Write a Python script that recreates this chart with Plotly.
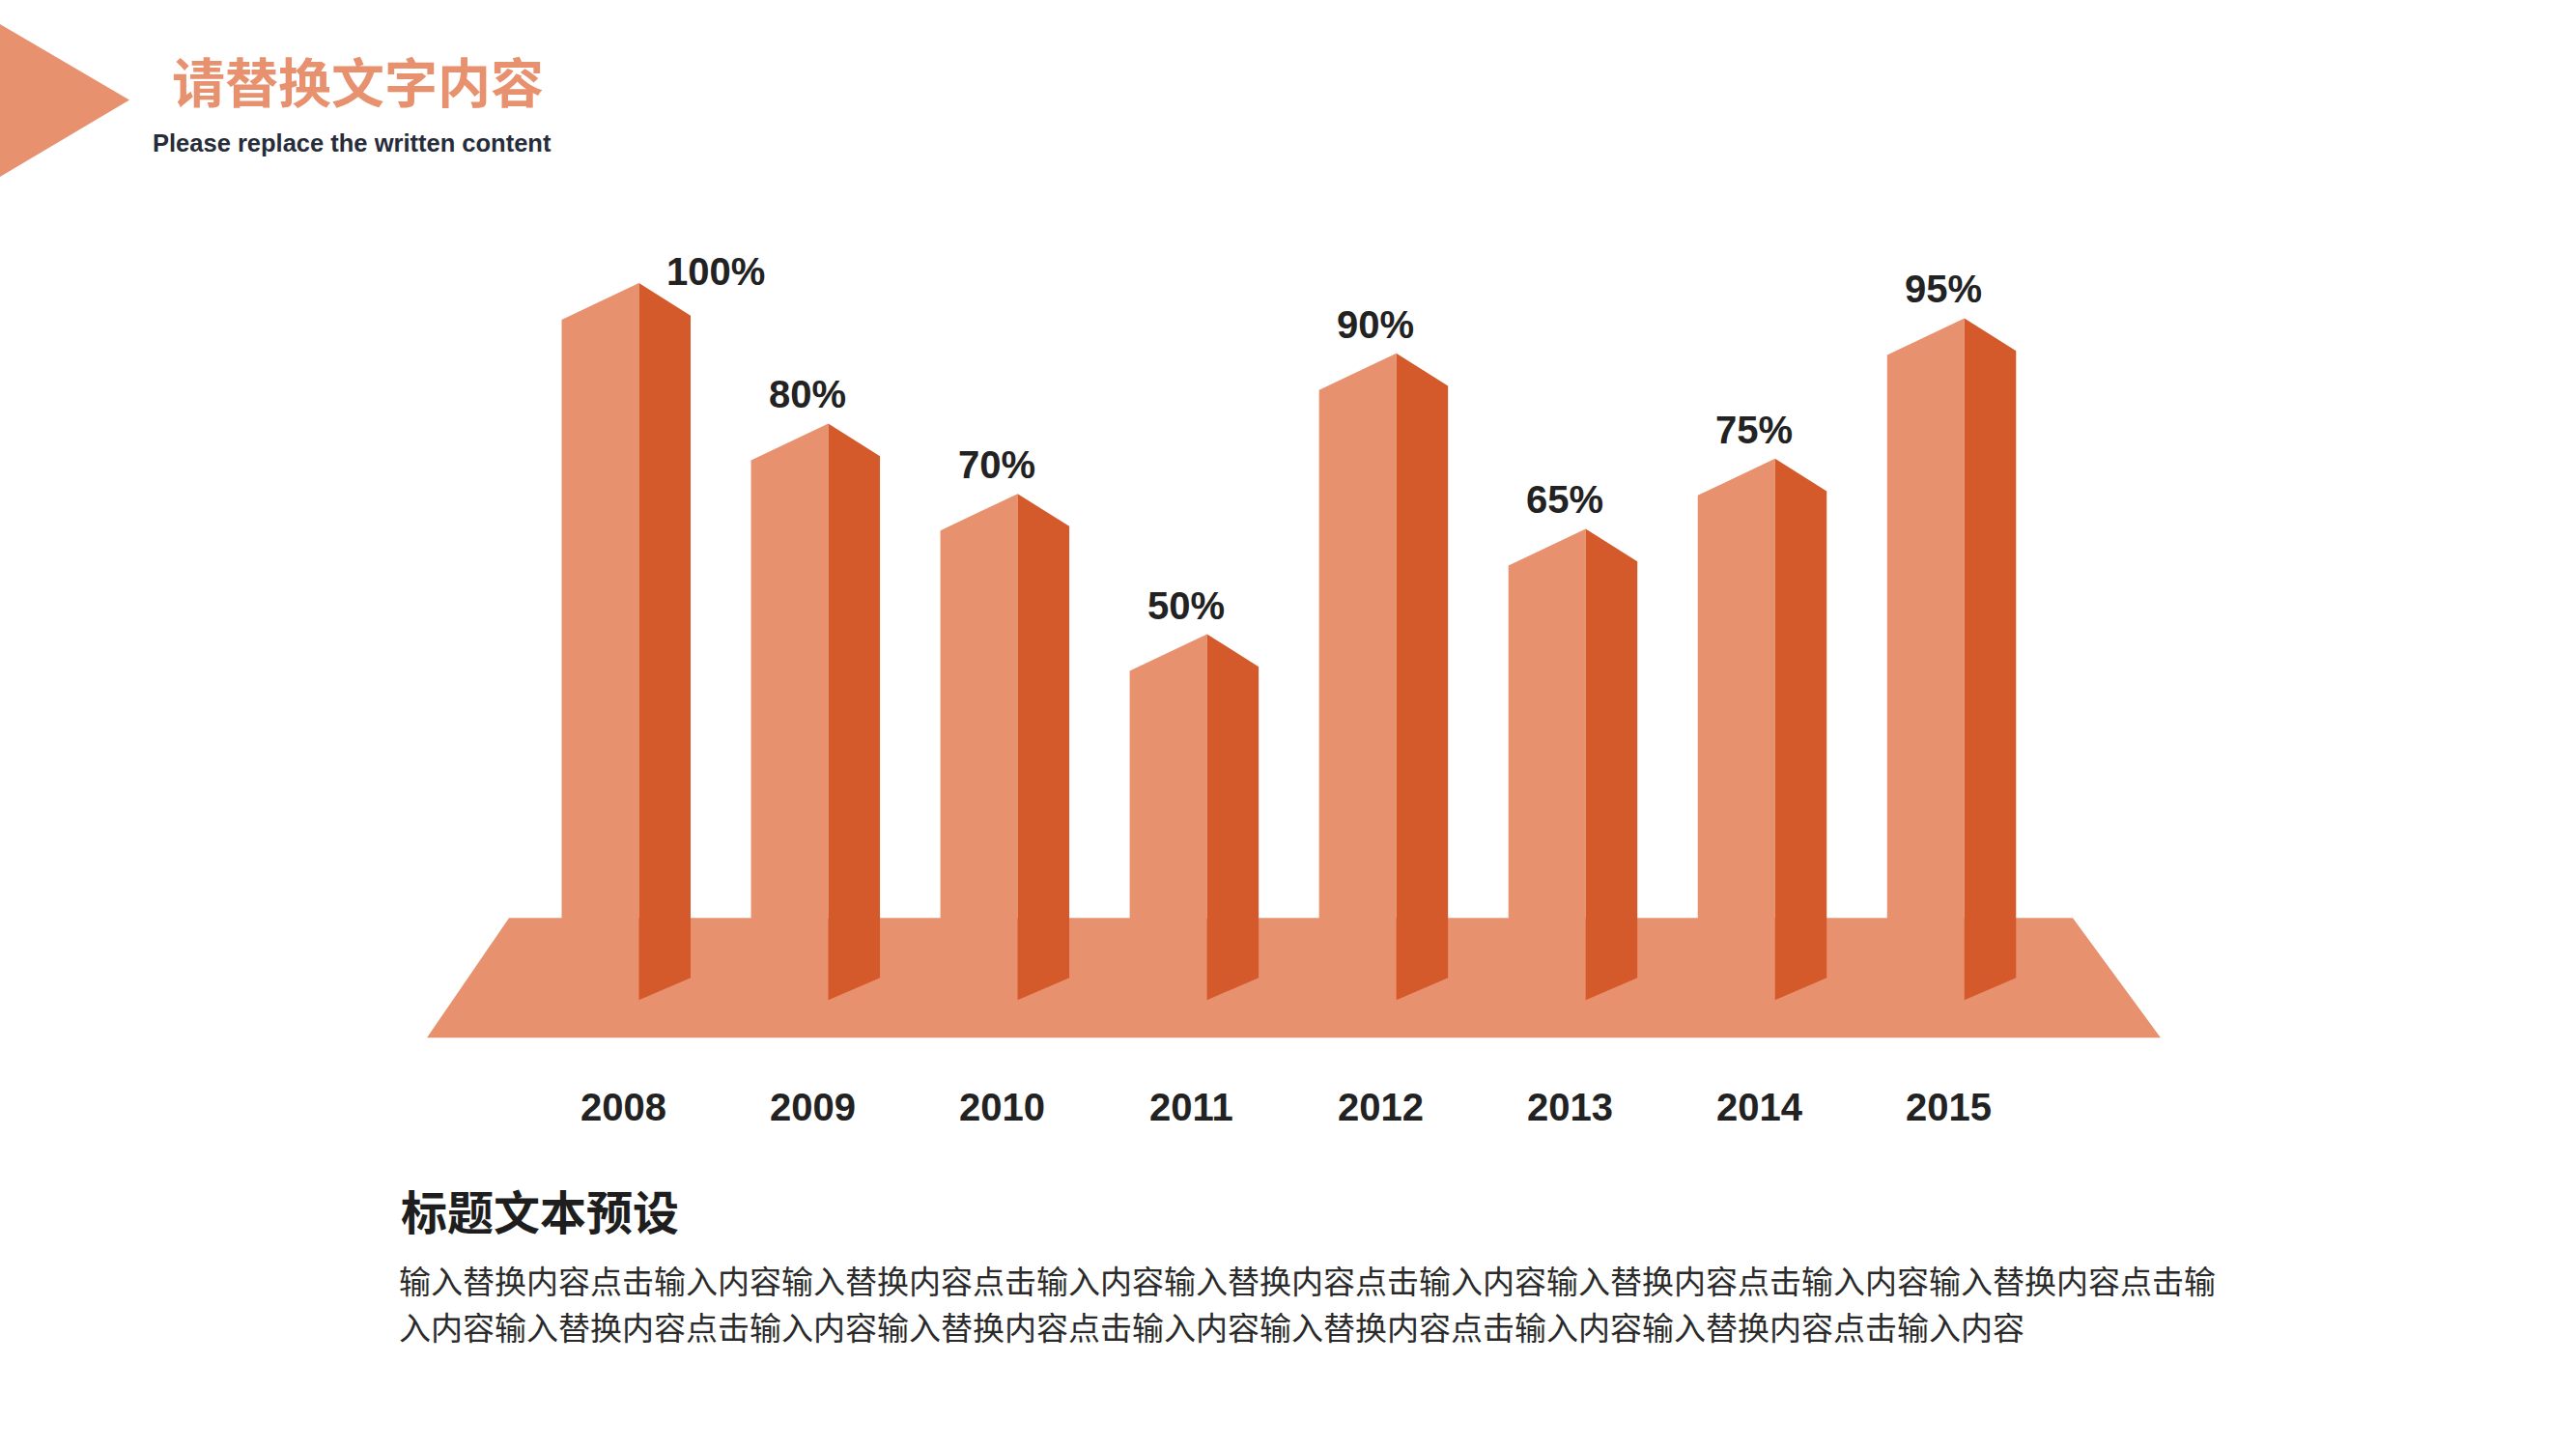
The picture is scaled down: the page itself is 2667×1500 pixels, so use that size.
import plotly.graph_objects as go

# ---------------- data ----------------
years = ["2008", "2009", "2010", "2011", "2012", "2013", "2014", "2015"]
values = [100, 80, 70, 50, 90, 65, 75, 95]
value_labels = [f"{v}%" for v in values]

title_cn = "请替换文字内容"
subtitle_en = "Please replace the written content"
section_title = "标题文本预设"
body_unit = "输入替换内容点击输入内容"
body_text = body_unit * 9
body_line1 = body_text[:57]
body_line2 = body_text[57:]

# ---------------- layout / style constants ----------------
W, H = 2667, 1500
CAT0_PX = 661.5        # pixel x of first category ridge
CAT_STEP_PX = 196.04   # pixels per category
ZERO_PX = 1019.9       # pixel y of value 0
UNIT_PX = 7.268        # pixels per value unit

LIGHT = "#E8916F"
DARK = "#D55A2B"
TEXT_DARK = "#222222"

FRONT_W = 80 / CAT_STEP_PX
SIDE_W = 53.5 / CAT_STEP_PX
FRONT_DROP = 38 / UNIT_PX
SIDE_DROP = 33.7 / UNIT_PX
FRONT_BOTTOM = -15.3 / UNIT_PX
SIDE_BOTTOM_MID = -15.3 / UNIT_PX
SIDE_BOTTOM_RIGHT = 7.6 / UNIT_PX

FLOOR_TOP = (ZERO_PX - 950.3) / UNIT_PX
FLOOR_BOTTOM = (ZERO_PX - 1074.3) / UNIT_PX
FLOOR_TL = -134.5 / CAT_STEP_PX
FLOOR_TR = 112.2 / CAT_STEP_PX
FLOOR_BL = -219.5 / CAT_STEP_PX
FLOOR_BR = 203.2 / CAT_STEP_PX

x_range = [-CAT0_PX / CAT_STEP_PX, (W - CAT0_PX) / CAT_STEP_PX]
y_range = [(ZERO_PX - H) / UNIT_PX, ZERO_PX / UNIT_PX]


def py(px):
    """pixel y (from top) to value units"""
    return (ZERO_PX - px) / UNIT_PX


fig = go.Figure()

# floor
n = len(years)
last = n - 1
fig.add_trace(go.Scatter(
    x=[FLOOR_TL, last + FLOOR_TR, last + FLOOR_BR, FLOOR_BL, FLOOR_TL],
    y=[FLOOR_TOP, FLOOR_TOP, FLOOR_BOTTOM, FLOOR_BOTTOM, FLOOR_TOP],
    fill="toself", fillcolor=LIGHT, mode="lines", line=dict(width=0),
    hoverinfo="skip", showlegend=False))

# bars: front (light) faces and side (dark) faces
fx, fy, sx, sy = [], [], [], []
for i, v in enumerate(values):
    fx += [i - FRONT_W, i, i, i - FRONT_W, i - FRONT_W, None]
    fy += [v - FRONT_DROP, v, FRONT_BOTTOM, FRONT_BOTTOM, v - FRONT_DROP, None]
    sx += [i, i + SIDE_W, i + SIDE_W, i, i, None]
    sy += [v, v - SIDE_DROP, SIDE_BOTTOM_RIGHT, SIDE_BOTTOM_MID, v, None]

fig.add_trace(go.Scatter(x=fx, y=fy, fill="toself", fillcolor=LIGHT, mode="lines",
                         line=dict(width=0), hoverinfo="skip", showlegend=False))
fig.add_trace(go.Scatter(x=sx, y=sy, fill="toself", fillcolor=DARK, mode="lines",
                         line=dict(width=0), hoverinfo="skip", showlegend=False))

annotations = []
num_font = dict(family="Liberation Sans, Arial, sans-serif", size=40, color=TEXT_DARK,
                weight="bold")
imax = values.index(max(values))
for i, (v, lab) in enumerate(zip(values, value_labels)):
    if i == imax:
        annotations.append(dict(x=i, y=v, xref="x", yref="y", text=lab, showarrow=False,
                                xanchor="left", yanchor="middle", xshift=26, yshift=12,
                                font=num_font))
    else:
        annotations.append(dict(x=i, y=v, xref="x", yref="y", text=lab, showarrow=False,
                                xanchor="center", yanchor="middle", xshift=-22, yshift=30,
                                font=num_font))

# category labels
for i, yr in enumerate(years):
    annotations.append(dict(x=i, y=py(1146), xref="x", yref="y", text=yr, showarrow=False,
                            xanchor="center", yanchor="middle", xshift=-16,
                            font=num_font))

# header texts
annotations.append(dict(x=176 / W, y=1 - 82 / H, xref="paper", yref="paper", text=title_cn,
                        showarrow=False, xanchor="left", yanchor="middle",
                        font=dict(family="Noto Sans CJK SC", size=55, color=LIGHT, weight="bold")))
annotations.append(dict(x=156 / W, y=1 - 148 / H, xref="paper", yref="paper", text=subtitle_en,
                        showarrow=False, xanchor="left", yanchor="middle",
                        font=dict(family="Liberation Sans, Arial, sans-serif", size=25.5,
                                  color="#262C3A", weight="bold")))

# bottom texts
annotations.append(dict(x=413 / W, y=1 - 1252 / H, xref="paper", yref="paper", text=section_title,
                        showarrow=False, xanchor="left", yanchor="middle",
                        font=dict(family="Noto Sans CJK SC", size=48, color="#1E1E1E", weight="bold")))
annotations.append(dict(x=411 / W, y=1 - 1325 / H, xref="paper", yref="paper", text=body_line1,
                        showarrow=False, xanchor="left", yanchor="middle",
                        font=dict(family="Noto Sans CJK SC", size=33, color="#2A2A2A")))
annotations.append(dict(x=411 / W, y=1 - 1373 / H, xref="paper", yref="paper", text=body_line2,
                        showarrow=False, xanchor="left", yanchor="middle",
                        font=dict(family="Noto Sans CJK SC", size=33, color="#2A2A2A")))

fig.update_layout(
    width=W, height=H,
    margin=dict(l=0, r=0, t=0, b=0),
    paper_bgcolor="white", plot_bgcolor="white",
    xaxis=dict(range=x_range, visible=False, fixedrange=True),
    yaxis=dict(range=y_range, visible=False, fixedrange=True),
    annotations=annotations,
    shapes=[dict(type="path", xref="paper", yref="paper",
                 path=f"M 0 {1 - 25 / H} L {134 / W} {1 - 103.5 / H} L 0 {1 - 183 / H} Z",
                 fillcolor=LIGHT, line=dict(width=0), layer="below")],
    showlegend=False,
)

fig.write_html("out.html",
               config={"displayModeBar": False},
               post_script="document.body.style.margin='0';document.body.style.overflow='hidden';")
